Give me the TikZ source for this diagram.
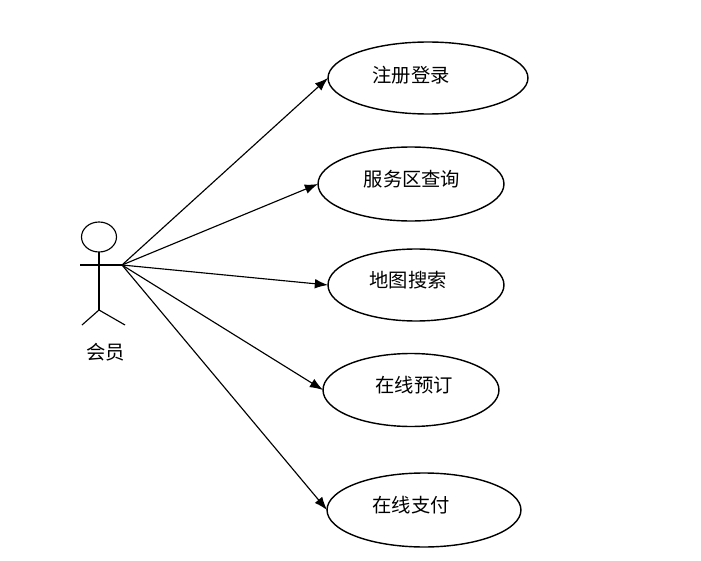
\documentclass[tikz,border=0pt]{standalone}
\usepackage{fontspec}
\newfontfamily\cjk{Noto Sans CJK SC}
\usetikzlibrary{shapes.geometric,arrows.meta}

\tikzset{
  usecase/.style={ellipse,draw,line width=0.8pt,inner sep=0pt,outer sep=0pt},
  uclabel/.style={font=\cjk\fontsize{11}{13}\selectfont},
  link/.style={line width=0.65pt,-{Latex[length=7.5pt,width=5.5pt]}},
  limb/.style={line width=0.65pt}
}

\begin{document}
\begin{tikzpicture}[x=0.02cm,y=-0.02cm]
        \useasboundingbox (0,0) rectangle (701,561);
        % actor
        \node[ellipse,draw,limb,minimum width=0.7cm,minimum height=0.6cm,inner sep=0pt,outer sep=0pt] (head) at (99,237) {};
        \coordinate (hip) at (99,310);
        \coordinate (handL) at (80,265);
        \coordinate (handR) at (122,265);
        \coordinate (footL) at (82,325);
        \coordinate (footR) at (125,325);
        \draw[limb] (head.south) -- (hip);
        \draw[limb] (handL) -- (handR);
        \draw[limb] (footL) -- (hip) -- (footR);
        \node[uclabel] (member) at (106,352) {会员};

        % use cases
        \node[usecase,minimum width=4cm,minimum height=1.44cm,label={[uclabel,xshift=-0.34cm,yshift=0.06cm]center:注册登录}] (U1) at (428,78) {};
        \node[usecase,minimum width=3.72cm,minimum height=1.48cm,label={[uclabel,xshift=0.02cm,yshift=0.1cm]center:服务区查询}] (U2) at (411,184) {};
        \node[usecase,minimum width=3.52cm,minimum height=1.44cm,label={[uclabel,xshift=-0.16cm,yshift=0.1cm]center:地图搜索}] (U3) at (416,285) {};
        \node[usecase,minimum width=3.52cm,minimum height=1.46cm,label={[uclabel,xshift=0.06cm,yshift=0.1cm]center:在线预订}] (U4) at (411,390) {};
        \node[usecase,minimum width=3.88cm,minimum height=1.48cm,label={[uclabel,xshift=-0.26cm,yshift=0.1cm]center:在线支付}] (U5) at (424,510) {};

        \draw[link] (handR) -- (U1.west);
        \draw[link] (handR) -- (U2.west);
        \draw[link] (handR) -- (U3.west);
        \draw[link] (handR) -- (U4.west);
        \draw[link] (handR) -- (U5.west);
\end{tikzpicture}
\end{document}
